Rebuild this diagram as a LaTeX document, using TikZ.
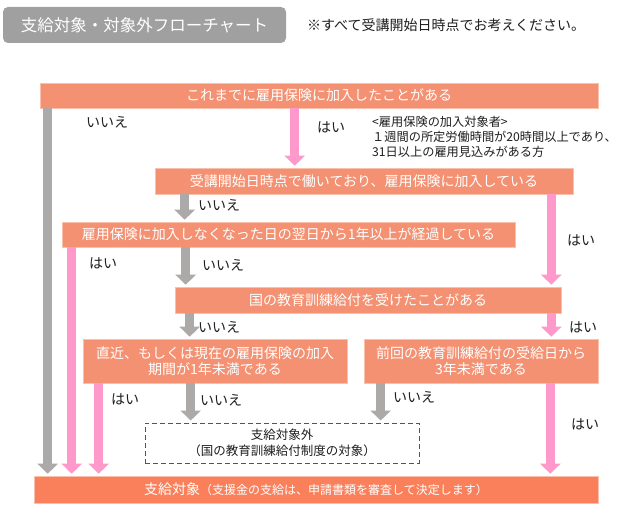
\documentclass[tikz,border=0pt]{standalone}
\usepackage{fontspec}
\setmainfont{Noto Sans CJK JP}
\usetikzlibrary{arrows.meta}
\definecolor{flowbox}{RGB}{243,145,114}
\definecolor{flowedge}{RGB}{250,192,172}
\definecolor{flowend}{RGB}{250,128,91}
\definecolor{flowtitle}{RGB}{160,160,160}
\definecolor{noarrow}{RGB}{172,169,169}
\definecolor{yesarrow}{RGB}{255,153,204}
\definecolor{flowink}{RGB}{30,30,30}
\definecolor{flowdash}{RGB}{85,85,85}

\begin{document}
\begin{tikzpicture}[x=1pt, y=-1pt,
  font=\fontsize{14}{17}\selectfont,
  qbox/.style={fill=flowbox, draw=flowedge, line width=0.6pt, text=white,
               align=center, inner sep=0pt},
  titlebox/.style={fill=flowtitle, rounded corners=5pt, text=white, inner sep=0pt,
                   font=\fontsize{16.5}{19}\selectfont},
  outbox/.style={draw=flowdash, dash pattern=on 5pt off 3pt, line width=1pt, fill=white,
                 text=flowink, align=center, inner sep=0pt, font=\fontsize{12.5}{16.5}\selectfont},
  endbox/.style={fill=flowend, draw=flowedge, line width=0.6pt, text=white, inner sep=0pt},
  noarr/.style={-{Triangle[length=10pt,width=20pt]}, line width=9pt, color=noarrow, shorten >=2pt},
  yesarr/.style={-{Triangle[length=10pt,width=20pt]}, line width=9pt, color=yesarrow, shorten >=2pt},
  lbl/.style={anchor=west, text=flowink, inner sep=0pt}
]
\fill[white] (0,0) rectangle (620,508);
\useasboundingbox (0,0) rectangle (620,508);
\node[titlebox, minimum width=283pt, minimum height=36pt] (title) at (144.5,25) {支給対象・対象外フローチャート};
\node[lbl] (hint) at (307,25) {※すべて受講開始日時点でお考えください。};

\node[qbox, minimum width=558pt, minimum height=25pt] (q1) at (319,95.5) {これまでに雇用保険に加入したことがある};
\node[qbox, minimum width=418pt, minimum height=26pt] (q2) at (364,181) {受講開始日時点で働いており、雇用保険に加入している};
\node[qbox, minimum width=453pt, minimum height=25pt] (q3) at (288.5,234.5) {雇用保険に加入しなくなった日の翌日から1年以上が経過している};
\node[qbox, minimum width=386pt, minimum height=26pt] (q4) at (368,300) {国の教育訓練給付を受けたことがある};
\node[qbox, minimum width=264pt, minimum height=44pt, font=\fontsize{14}{16}\selectfont] (q5) at (215,361) {直近、もしくは現在の雇用保険の加入\\期間が1年未満である};
\node[qbox, minimum width=234pt, minimum height=44pt, font=\fontsize{14}{16}\selectfont] (q6) at (481,361) {前回の教育訓練給付の受給日から\\3年未満である};
\node[outbox, minimum width=274pt, minimum height=40pt] (out) at (282,443) {支給対象外\\（国の教育訓練給付制度の対象）};
\node[endbox, minimum width=564pt, minimum height=27pt] (final) at (316,489.5) {支給対象{\fontsize{12}{14}\selectfont（支援金の支給は、申請書類を審査して決定します）}};

\node[lbl, align=left, font=\fontsize{12.2}{15}\selectfont] (note) at (372,137) {<雇用保険の加入対象者>\\１週間の所定労働時間が20時間以上であり、\\31日以上の雇用見込みがある方};

\draw[noarr] ([xshift=8pt]q1.south west) -- ([xshift=8pt]q1.south west |- final.north);
\draw[yesarr] ([xshift=140pt]q2.north west |- q1.south) -- ([xshift=140pt]q2.north west);
\draw[noarr] ([xshift=30pt]q2.south west) -- ([xshift=30pt]q2.south west |- q3.north);
\draw[yesarr] ([xshift=-22pt]q2.south east) -- ([xshift=-22pt]q2.south east |- q4.north);
\draw[yesarr] ([xshift=10pt]q3.south west) -- ([xshift=10pt]q3.south west |- final.north);
\draw[noarr] ([xshift=11pt]q4.north west |- q3.south) -- ([xshift=11pt]q4.north west);
\draw[noarr] ([xshift=15pt]q4.south west) -- ([xshift=15pt]q4.south west |- q5.north);
\draw[yesarr] ([xshift=-10pt]q4.south east) -- ([xshift=-10pt]q4.south east |- q6.north);
\draw[yesarr] ([xshift=16pt]q5.south west) -- ([xshift=16pt]q5.south west |- final.north);
\draw[noarr] ([xshift=108pt]q5.south west) -- ([xshift=108pt]q5.south west |- out.north);
\draw[noarr] ([xshift=17pt]q6.south west) -- ([xshift=17pt]q6.south west |- out.north);
\draw[yesarr] ([xshift=-48pt]q6.south east) -- ([xshift=-48pt]q6.south east |- final.north);

\node[lbl] (n1) at (86,122) {いいえ};
\node[lbl] (y1) at (317,127) {はい};
\node[lbl] (n2) at (198,205) {いいえ};
\node[lbl] (y2) at (567,240) {はい};
\node[lbl] (y3) at (89,263) {はい};
\node[lbl] (n3) at (202,265) {いいえ};
\node[lbl] (n4) at (198,327) {いいえ};
\node[lbl] (y4) at (569,327) {はい};
\node[lbl] (y5) at (111,399) {はい};
\node[lbl] (n5) at (200,400) {いいえ};
\node[lbl] (n6) at (393,397) {いいえ};
\node[lbl] (y6) at (571,424) {はい};
\end{tikzpicture}
\end{document}
